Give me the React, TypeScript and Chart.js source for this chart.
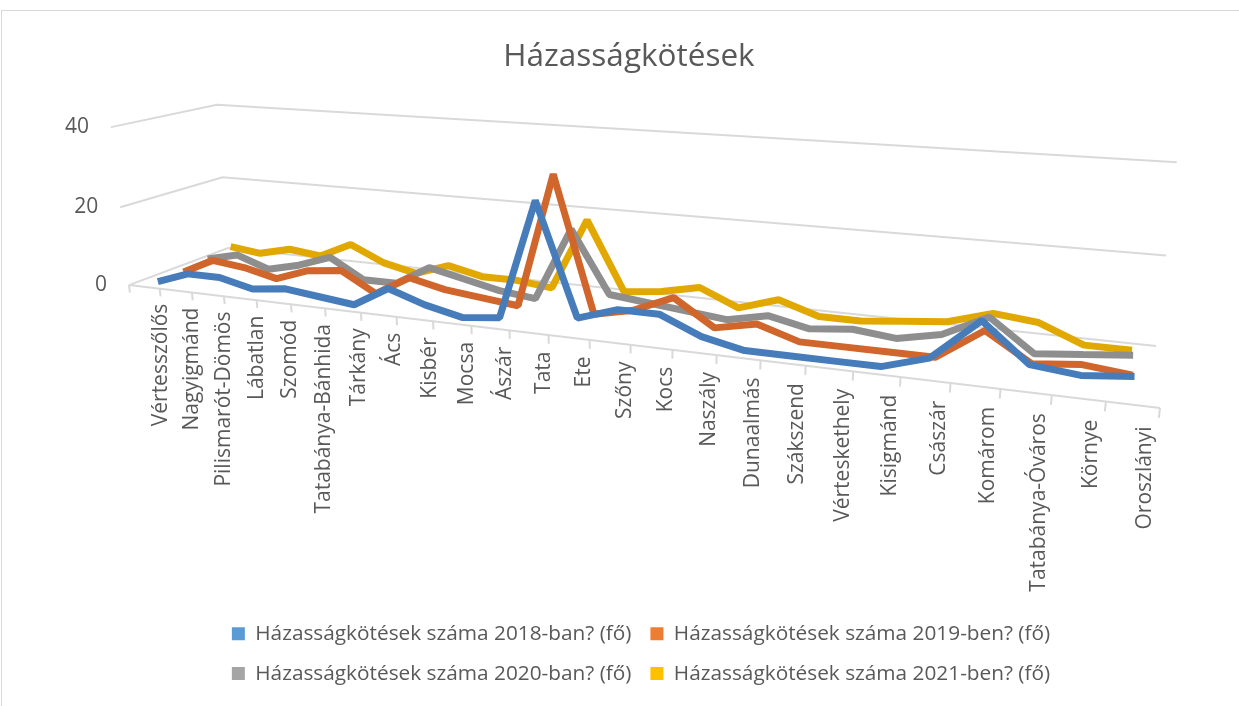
import React, { useEffect, useRef } from 'react';
import { Chart, registerables } from 'chart.js';

Chart.register(...registerables);

// ---------------- data ----------------
const categories = [
  'Vértesszőlős', 'Nagyigmánd', 'Pilismarót-Dömös', 'Lábatlan', 'Szomód',
  'Tatabánya-Bánhida', 'Tárkány', 'Ács', 'Kisbér', 'Mocsa', 'Ászár', 'Tata',
  'Ete', 'Szőny', 'Kocs', 'Naszály', 'Dunaalmás', 'Szákszend', 'Vérteskethely',
  'Kisigmánd', 'Császár', 'Komárom', 'Tatabánya-Óváros', 'Környe', 'Oroszlányi',
];
const series2018 = [0, 3, 3, 1, 2, 1, 0, 5, 2, 0, 1, 29, 3, 6, 6, 2, 0, 0, 0, 0, 3, 12, 4, 3, 4];
const series2019 = [0, 4, 3, 1, 4, 5, 0, 5, 3, 2, 1, 33, 1, 3, 7, 1, 3, 0, 0, 0, 0, 7, 1, 2, 1];
const series2020 = [1, 3, 0, 2, 5, 0, 0, 5, 3, 1, 0, 18, 3, 2, 1, 0, 2, 0, 1, 0, 2, 7, 0, 1, 2];
const series2021 = [2, 1, 3, 2, 6, 2, 0, 3, 1, 1, 0, 18, 1, 2, 4, 0, 3, 0, 0, 1, 2, 5, 4, 0, 0];
const seriesLabels = [
  'Házasságkötések száma 2018-ban? (fő)',
  'Házasságkötések száma 2019-ben? (fő)',
  'Házasságkötések száma 2020-ban? (fő)',
  'Házasságkötések száma 2021-ben? (fő)',
];
const yTicks = [0, 20, 40];
const chartTitle = 'Házasságkötések';

// ---------------- styling ----------------
const FONT = "'Open Sans', 'Noto Sans', sans-serif";
const TEXT = '#595959';
const GRID = '#d9d9d9';
const LINE_COLORS = ['#477cbb', '#d0662b', '#8e8e8e', '#e0a800'];
const LEGEND_COLORS = ['#5b9bd5', '#ed7d31', '#a5a5a5', '#ffc000'];
const DEPTH = [0.125, 0.375, 0.625, 0.875];
const TICK_SIZE = 21;

// ---------------- 3D view (perspective box) ----------------
const FRONT = [[129, 285], [1160, 408], [1184, 199], [111, 127]];
const BACK = [[228, 248], [1156, 346], [1177, 162], [217, 105]];
const VP = [1128, -88];

function makeHom(q: number[][]) {
  const [x0, y0] = q[0], [x1, y1] = q[1], [x2, y2] = q[2], [x3, y3] = q[3];
  const dx1 = x1 - x2, dx2 = x3 - x2, dx3 = x0 - x1 + x2 - x3;
  const dy1 = y1 - y2, dy2 = y3 - y2, dy3 = y0 - y1 + y2 - y3;
  const den = dx1 * dy2 - dx2 * dy1;
  const g = (dx3 * dy2 - dx2 * dy3) / den;
  const h = (dx1 * dy3 - dx3 * dy1) / den;
  const a = x1 - x0 + g * x1, b = x3 - x0 + h * x3, c = x0;
  const d = y1 - y0 + g * y1, e = y3 - y0 + h * y3, f = y0;
  return (u: number, v: number) => {
    const z = g * u + h * v + 1;
    return [(a * u + b * v + c) / z, (d * u + e * v + f) / z];
  };
}
const HF = makeHom(FRONT);
const HB = makeHom(BACK);

function projectUV(u: number, v: number, w: number) {
  const F = HF(u, v);
  const B = HB(u, v);
  const k = Math.hypot(F[0] - B[0], F[1] - B[1]) / Math.hypot(B[0] - VP[0], B[1] - VP[1]);
  const kw = k * w;
  return [(F[0] + kw * VP[0]) / (1 + kw), (F[1] + kw * VP[1]) / (1 + kw)];
}

function uvOf(chart: any, px: number, py: number) {
  const a = chart.chartArea;
  return [(px - a.left) / (a.right - a.left), (a.bottom - py) / (a.bottom - a.top)];
}

const P = CanvasRenderingContext2D.prototype;

function withCtx(ctx: any, patch: Record<string, any>, fn: () => void) {
  Object.keys(patch).forEach((k) => { ctx[k] = patch[k]; });
  try { fn(); } finally { Object.keys(patch).forEach((k) => { delete ctx[k]; }); }
}

const perspectivePlugin = {
  id: 'perspective3d',
  beforeDraw(chart: any) {
    const ctx = chart.ctx;
    const xs = chart.scales.x;
    const ys = chart.scales.y;
    if (xs && !xs.__p3d) {
      xs.__p3d = true;
      xs._computeLabelArea = () => undefined;
      const g = xs.drawGrid, b = xs.drawBorder, l = xs.drawLabels;
      xs.drawGrid = function (area: any) {
        withCtx(ctx, {
          moveTo: (px: number, py: number) => { const p = projectUV(uvOf(chart, px, py)[0], 0, 0); P.moveTo.call(ctx, p[0], p[1]); },
          lineTo: (px: number, py: number) => { const p = projectUV(uvOf(chart, px, py)[0], -0.05, 0); P.lineTo.call(ctx, p[0], p[1]); },
        }, () => g.call(this, area));
      };
      xs.drawBorder = function () {
        withCtx(ctx, {
          moveTo: (px: number, py: number) => { const p = projectUV(Math.max(0, uvOf(chart, px, py)[0]), 0, 0); P.moveTo.call(ctx, p[0], p[1]); },
          lineTo: (px: number, py: number) => { const p = projectUV(Math.min(1, uvOf(chart, px, py)[0]), 0, 0); P.lineTo.call(ctx, p[0], p[1]); },
        }, () => b.call(this));
      };
      xs.drawLabels = function (area: any) {
        const lh = TICK_SIZE * 1.2;
        withCtx(ctx, {
          translate: (px: number, py: number) => { const p = projectUV(uvOf(chart, px + lh / 2, py)[0], -0.11, 0); P.translate.call(ctx, p[0] + 2, p[1]); },
        }, () => l.call(this, area));
      };
    }
    if (ys && !ys.__p3d) {
      ys.__p3d = true;
      ys._computeLabelArea = () => undefined;
      const g = ys.drawGrid, l = ys.drawLabels;
      ys.drawGrid = function (area: any) {
        withCtx(ctx, {
          moveTo: (px: number, py: number) => {
            const v = uvOf(chart, px, py)[1];
            const a = projectUV(0, v, 0), b2 = projectUV(0, v, 1);
            P.moveTo.call(ctx, a[0], a[1]);
            P.lineTo.call(ctx, b2[0], b2[1]);
          },
          lineTo: (px: number, py: number) => { const p = projectUV(1, uvOf(chart, px, py)[1], 1); P.lineTo.call(ctx, p[0], p[1]); },
        }, () => g.call(this, area));
      };
      ys.drawLabels = function (area: any) {
        withCtx(ctx, {
          translate: (px: number, py: number) => { const p = projectUV(0, uvOf(chart, px, py)[1], 0); P.translate.call(ctx, p[0] - 22, p[1]); },
        }, () => l.call(this, area));
      };
    }
  },
  beforeDatasetDraw(chart: any, args: any) {
    const meta = args.meta;
    const w = DEPTH[args.index] ?? 0;
    meta.__saved = meta.data.map((pt: any) => [pt.x, pt.y]);
    meta.data.forEach((pt: any) => {
      const [u, v] = uvOf(chart, pt.x, pt.y);
      const p = projectUV(u, v, w);
      pt.x = p[0];
      pt.y = p[1];
    });
    if (meta.dataset) meta.dataset._path = undefined;
  },
  afterDatasetDraw(chart: any, args: any) {
    const meta = args.meta;
    if (meta.__saved) {
      meta.data.forEach((pt: any, i: number) => { pt.x = meta.__saved[i][0]; pt.y = meta.__saved[i][1]; });
      meta.__saved = null;
    }
    if (meta.dataset) meta.dataset._path = undefined;
  },
};

export default function App() {
  const ref = useRef<HTMLCanvasElement>(null);

  useEffect(() => {
    if (!ref.current) return;
    const values = [series2018, series2019, series2020, series2021];
    const chart = new Chart(ref.current, {
      type: 'line',
      data: {
        labels: categories,
        datasets: values.map((d, i) => ({
          label: seriesLabels[i],
          data: d,
          borderColor: LINE_COLORS[i],
          backgroundColor: LEGEND_COLORS[i],
          borderWidth: 7,
          borderJoinStyle: 'bevel',
          borderCapStyle: 'butt',
          pointRadius: 0,
          pointHoverRadius: 0,
          tension: 0,
          fill: false,
          clip: false,
        })),
      },
      options: {
        responsive: false,
        maintainAspectRatio: false,
        devicePixelRatio: 1,
        animation: false,
        events: [],
        layout: { padding: { top: 10, left: 150, right: 131, bottom: 12 } },
        scales: {
          x: {
            type: 'category',
            offset: true,
            grid: { offset: true, drawOnChartArea: false, drawTicks: true, tickLength: 8, color: GRID, lineWidth: 2 },
            border: { display: true, color: GRID, width: 2 },
            ticks: { autoSkip: false, maxRotation: 90, minRotation: 90, color: TEXT, font: { family: FONT, size: TICK_SIZE }, padding: 4 },
          },
          y: {
            min: 0,
            max: 40,
            afterBuildTicks: (s: any) => { s.ticks = yTicks.map((v) => ({ value: v })); },
            afterFit: (s: any) => { s.width = 24; },
            ticks: { color: TEXT, font: { family: FONT, size: TICK_SIZE }, padding: 8 },
            grid: { color: GRID, lineWidth: 2, drawTicks: false },
            border: { display: false },
          },
        },
        plugins: {
          title: {
            display: true,
            text: chartTitle,
            color: TEXT,
            font: { family: FONT, size: 31.5, weight: 'normal' },
            padding: { top: 28, bottom: 10 },
          },
          legend: {
            position: 'bottom',
            fullSize: false,
            labels: {
              color: TEXT,
              font: { family: FONT, size: 20.8 },
              boxWidth: 13,
              boxHeight: 13,
              padding: 19,
              generateLabels: (c: any) => {
                const items = (Chart.defaults.plugins.legend.labels as any).generateLabels(c);
                return items.map((it: any, i: number) => ({
                  ...it,
                  fillStyle: LEGEND_COLORS[i],
                  strokeStyle: LEGEND_COLORS[i],
                  lineWidth: 0,
                }));
              },
            },
          },
          tooltip: { enabled: false },
        },
      } as any,
      plugins: [perspectivePlugin as any],
    });
    return () => chart.destroy();
  }, []);

  return (
    <div style={{ position: 'fixed', left: 0, top: 0, width: 1239, height: 706, background: '#fff', overflow: 'hidden' }}>
      <div style={{ position: 'absolute', left: 1, top: 10, width: 1260, height: 720, borderTop: '1px solid #d9d9d9', borderLeft: '1px solid #d9d9d9' }} />
      <canvas ref={ref} width={1239} height={706} style={{ position: 'absolute', left: 0, top: 0, width: 1239, height: 706 }} />
    </div>
  );
}
